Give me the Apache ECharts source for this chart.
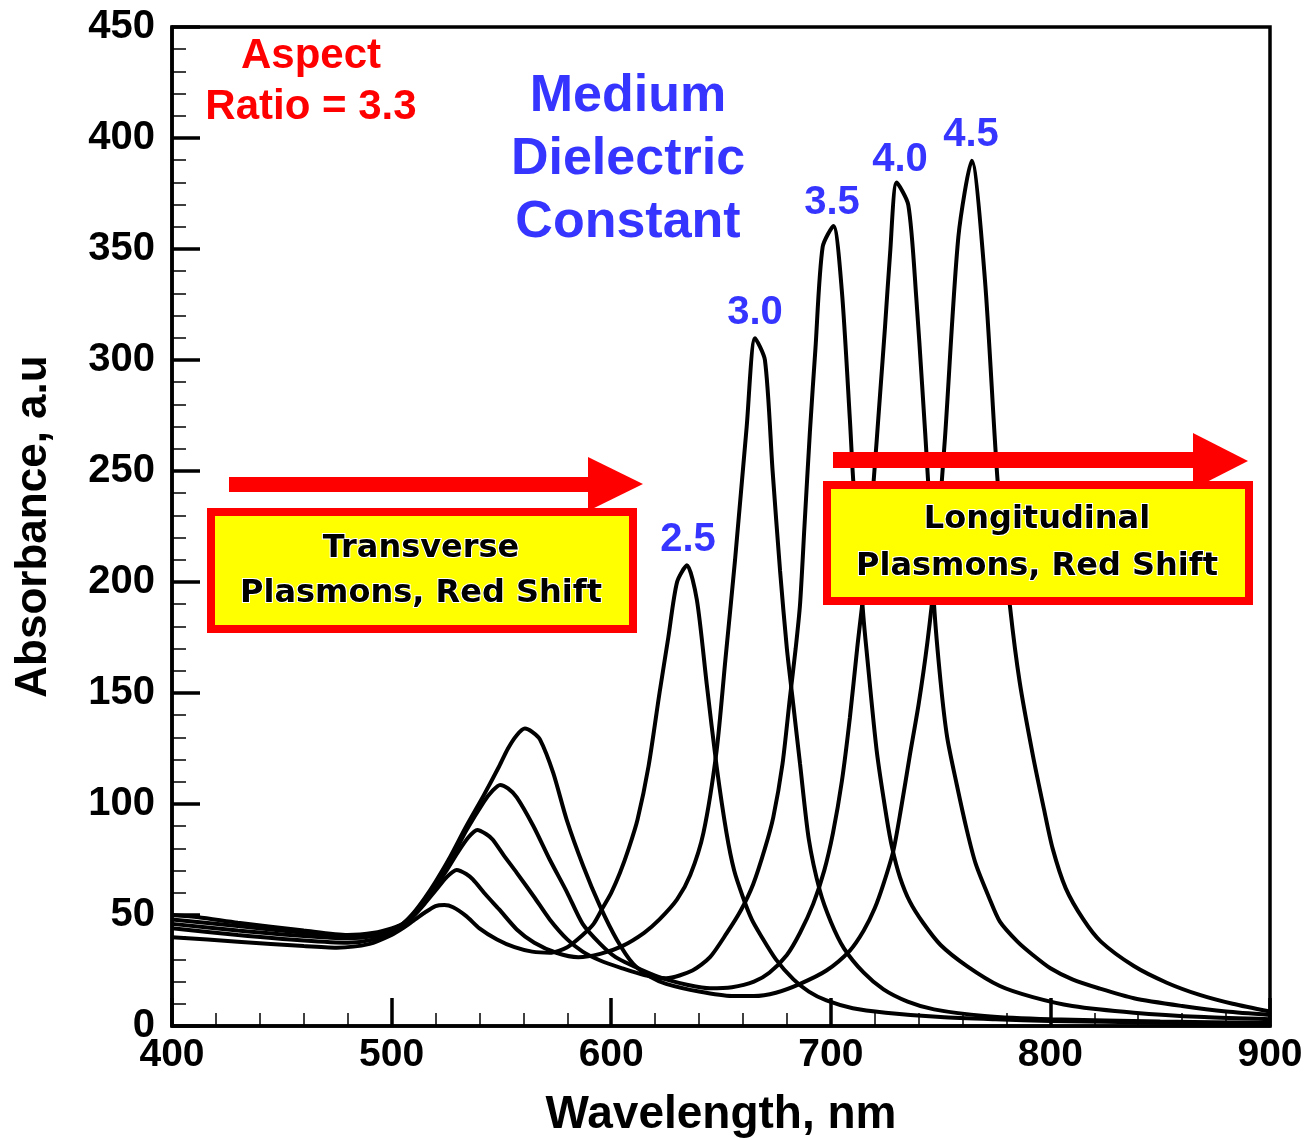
<!DOCTYPE html>
<html>
<head>
<meta charset="utf-8">
<title>Absorbance vs wavelength</title>
<script src="https://cdn.jsdelivr.net/npm/echarts@6/dist/echarts.min.js"></script>
<style>
  html, body { margin: 0; padding: 0; background: #fff; }
  #chart { width: 1308px; height: 1140px; }
</style>
</head>
<body>
<div id="chart"></div>
<script>
// medium dielectric constant 2.5
const wl25 = [400, 430, 460, 475, 490, 500, 505, 510, 515, 520, 524, 528, 534, 540, 548, 556, 564, 572, 580, 587, 592, 596, 600, 604, 608, 612, 617, 622, 626, 630, 634.5, 639, 643.5, 648, 652.5, 656, 660, 664, 668, 675, 683, 690, 698, 710, 725, 750, 775, 800, 850, 900];
const ab25 = [40, 38, 36, 35.3, 37, 41, 44, 47.5, 51, 54, 54.5, 53.5, 49.5, 44, 39, 35.5, 33.5, 33, 35.5, 41, 46, 53, 60, 69, 80, 93, 117, 150, 175, 200, 207.5, 192, 154, 117, 87, 70, 58, 48, 41, 30, 21, 15.5, 11.5, 8, 6, 4, 3, 2.3, 1.5, 1];

// 3.0
const wl30 = [400, 430, 460, 480, 492, 500, 505, 510, 515, 520, 525, 529.6, 534, 537, 543, 549, 557, 565, 575, 585, 595, 605, 615, 622, 630, 636, 642, 648, 652, 656.4, 661.7, 665.5, 670, 673.5, 676.9, 680, 683, 686, 690, 695, 700, 706, 715, 724, 735, 747, 770, 800, 850, 900];
const ab30 = [44, 41, 38.5, 37.5, 39, 42.5, 45, 49.5, 55, 61, 67, 70.3, 68.5, 66, 59, 52.5, 43.5, 37.5, 33, 31, 32.5, 36, 42, 48, 57, 68, 87, 124, 165, 210, 270, 309.8, 300, 250, 205, 170, 144, 118, 84, 61, 47, 35, 24, 16.5, 11, 7.5, 4.5, 3, 2, 1.5];

// 3.5
const wl35 = [400, 430, 460, 480, 492, 500, 505, 510, 515, 520, 525, 530, 535, 539, 543, 546, 551, 557, 565, 572, 580, 587, 595, 605, 615, 625, 637, 645, 652.6, 659, 664.7, 670, 673.8, 678, 681.4, 684, 686, 688, 690.5, 693, 696.3, 701.2, 705, 708.7, 710.2, 714.8, 716.3, 720.9, 725.4, 728, 731.5, 736, 742, 750, 762, 777, 792, 810, 838, 870, 900];
const ab35 = [46, 43, 40.5, 39.5, 40.5, 43, 45.5, 50, 56, 63, 70, 78, 85, 88.3, 86.5, 84, 77, 69, 58, 48, 39, 33.5, 29.5, 26, 23, 21.5, 25, 31, 41.8, 52, 64, 80, 94, 118, 148, 170, 190, 225, 268, 305, 351, 360.4, 331.5, 273, 246, 185, 169, 124, 94, 80, 67, 56, 46.5, 36.5, 27, 18, 13, 9, 6, 4, 3];

// 4.0
const wl40 = [400, 430, 460, 480, 492, 500, 505, 510, 515, 520, 526, 534, 542, 546, 549.4, 553, 557, 564.6, 572, 580, 587, 595, 602, 610, 618, 625, 635, 645, 655, 665, 672, 680, 686, 692, 697, 701, 705, 708.7, 712, 716, 719.4, 722.4, 724.7, 727, 730, 735.3, 739, 741.5, 744.4, 747, 750, 753, 757.3, 762, 766, 772, 777, 785, 792, 800, 810, 822, 838, 860, 880, 900];
const ab40 = [48, 45, 42, 40.5, 41.5, 43.5, 46, 50.5, 57, 64, 73, 88, 101, 106, 108.6, 107, 103, 90, 75, 60, 46, 37, 31, 27, 23.5, 21, 18.5, 17, 17.5, 20, 24, 32, 42, 55, 70, 87, 110, 139, 170, 205, 244, 284, 315, 348, 379.9, 369.8, 327, 290, 244, 190, 155, 130, 109, 88, 73, 58, 47, 38, 32, 26, 21, 17, 12.5, 9, 6.5, 5];

// 4.5
const wl45 = [400, 412, 430, 460, 480, 492, 500, 505, 510, 515, 520, 526, 534, 542, 549, 553, 557, 560.7, 564, 567.6, 573.6, 579.7, 587.3, 594.9, 602.5, 610, 618, 625, 640, 655, 665, 675, 686, 698, 708.7, 715, 720, 724, 728.5, 732, 736, 740, 744, 747, 752, 758.1, 764.2, 770.2, 776, 781.6, 786, 792, 797, 801, 807, 815, 823, 838, 853, 868, 883, 900];
const ab45 = [50, 49, 46.5, 43, 41, 42, 44, 46, 51, 57.5, 65, 75, 90, 104, 117, 125, 131, 134, 132.5, 129, 114, 93, 72, 54, 39, 28, 22, 19, 15.5, 13.5, 13.5, 15, 19, 25, 34, 43, 53, 64, 79, 98, 122, 145, 173, 200, 265, 355.5, 389.8, 336, 245, 189, 155, 122, 98, 80, 62, 48, 38, 27, 19.5, 14, 10, 6.5];

const curves = [[wl25, ab25], [wl30, ab30], [wl35, ab35], [wl40, ab40], [wl45, ab45]];

const chart = echarts.init(document.getElementById('chart'));

const arial = 'Liberation Sans, Arial, sans-serif';
const axisFont = { fontFamily: arial, fontWeight: 'bold', color: '#000' };
const blue = '#3535ff';
const comic = '"Comic Sans MS", "DejaVu Sans", sans-serif';

function pairs(w, a) {
    return w.map((x, i) => [x, a[i]]);
}

function label(text, x, y) {
    return {
        type: 'text', z: 52, x: x, y: y,
        style: { text: text, align: 'center', verticalAlign: 'middle', fontSize: 40, fontWeight: 'bold', fontFamily: arial, fill: blue }
    };
}

const option = {
    backgroundColor: '#fff',
    animation: false,
    grid: {
        left: 172, right: 38, top: 27, bottom: 114,
        show: true, borderColor: '#000', borderWidth: 3.5,
        outerBoundsMode: 'none'
    },
    xAxis: {
        type: 'value', min: 400, max: 900, interval: 100,
        name: 'Wavelength, nm', nameLocation: 'middle', nameGap: 66,
        nameTextStyle: Object.assign({ fontSize: 46 }, axisFont),
        axisLine: { lineStyle: { color: '#000', width: 3.5 } },
        axisTick: { inside: true, length: 28, lineStyle: { color: '#000', width: 3.5 } },
        minorTick: { show: true, splitNumber: 5, length: 13, lineStyle: { color: '#000', width: 1.5 } },
        splitLine: { show: false },
        axisLabel: Object.assign({ fontSize: 39, margin: 10 }, axisFont)
    },
    yAxis: {
        type: 'value', min: 0, max: 450, interval: 50,
        name: 'Absorbance, a.u', nameLocation: 'middle', nameGap: 116,
        nameTextStyle: Object.assign({ fontSize: 44 }, axisFont),
        axisLine: { lineStyle: { color: '#000', width: 3.5 } },
        axisTick: { inside: true, length: 28, lineStyle: { color: '#000', width: 3.5 } },
        minorTick: { show: true, splitNumber: 5, length: 14, lineStyle: { color: '#000', width: 1.5 } },
        splitLine: { show: false },
        axisLabel: Object.assign({ fontSize: 40, margin: 17 }, axisFont)
    },
    series: curves.map(c => ({
        type: 'line',
        data: pairs(c[0], c[1]),
        showSymbol: false,
        smooth: 0.25,
        lineStyle: { color: '#000', width: 4 },
        z: 3
    })),
    graphic: [
        // red arrows
        { type: 'rect', z: 50, shape: { x: 229, y: 477, width: 361, height: 15 }, style: { fill: '#ff0000' } },
        { type: 'polygon', z: 50, shape: { points: [[588, 457], [643, 484], [588, 511]] }, style: { fill: '#ff0000' } },
        { type: 'rect', z: 50, shape: { x: 833, y: 452, width: 361, height: 16 }, style: { fill: '#ff0000' } },
        { type: 'polygon', z: 50, shape: { points: [[1193, 433], [1248, 461], [1193, 489]] }, style: { fill: '#ff0000' } },
        // yellow boxes
        { type: 'rect', z: 51, shape: { x: 211, y: 512, width: 422, height: 117 }, style: { fill: '#ffff00', stroke: '#ff0000', lineWidth: 8 } },
        { type: 'rect', z: 51, shape: { x: 827, y: 485, width: 422, height: 116 }, style: { fill: '#ffff00', stroke: '#ff0000', lineWidth: 8 } },
        { type: 'text', z: 52, x: 421, y: 571, style: { text: 'Transverse\nPlasmons, Red Shift', align: 'center', verticalAlign: 'middle', lineHeight: 45, fontSize: 32, fontWeight: 'bold', fontFamily: comic, fill: '#000', stroke: '#fff', lineWidth: 2 } },
        { type: 'text', z: 52, x: 1037, y: 543, style: { text: 'Longitudinal\nPlasmons, Red Shift', align: 'center', verticalAlign: 'middle', lineHeight: 47, fontSize: 32, fontWeight: 'bold', fontFamily: comic, fill: '#000', stroke: '#fff', lineWidth: 2 } },
        // annotations
        { type: 'text', z: 52, x: 311, y: 82, style: { text: 'Aspect\nRatio = 3.3', align: 'center', verticalAlign: 'middle', lineHeight: 51, fontSize: 42, fontWeight: 'bold', fontFamily: arial, fill: '#ff0000' } },
        { type: 'text', z: 52, x: 628, y: 160, style: { text: 'Medium\nDielectric\nConstant', align: 'center', verticalAlign: 'middle', lineHeight: 63, fontSize: 52, fontWeight: 'bold', fontFamily: arial, fill: blue } },
        label('2.5', 688, 540),
        label('3.0', 755, 313),
        label('3.5', 832, 203),
        label('4.0', 900, 160),
        label('4.5', 971, 135)
    ]
};

chart.setOption(option);
</script>
</body>
</html>
